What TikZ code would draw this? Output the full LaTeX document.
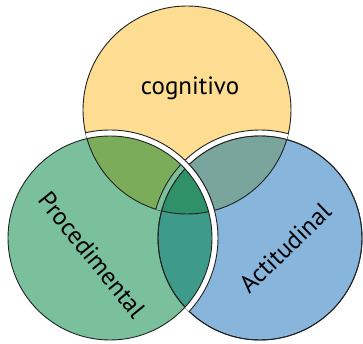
\documentclass[tikz,border=0pt]{standalone}
\usepackage{fontspec}
\setmainfont{PT Sans}
\definecolor{cyel}{HTML}{FCDD92}
\definecolor{cgreen}{HTML}{7BC09C}
\definecolor{cblue}{HTML}{87B5DC}
\definecolor{colive}{HTML}{7AAC5A}
\definecolor{cgrey}{HTML}{7AA59C}
\definecolor{cteal}{HTML}{3E9B8A}
\definecolor{cdark}{HTML}{2F9168}
\definecolor{cline}{HTML}{222222}
\begin{document}
\begin{tikzpicture}[x=1pt,y=-1pt,line width=0.9pt,
  outl/.style={draw=cline},
  cut/.style={fill=white,draw=cline},
  lbl/.style={font=\fontsize{25}{30}\selectfont,inner sep=0pt}]
\useasboundingbox (0,0) rectangle (363,344);
\coordinate (Y) at (187,110);
\coordinate (G) at (110,238);
\coordinate (B) at (260,238);
% yellow
\filldraw[fill=cyel,outl] (Y) circle (104pt);
% blue cut into yellow
\begin{scope}
  \clip (Y) circle (104pt);
  \filldraw[cut] (B) circle (108pt);
\end{scope}
% blue
\filldraw[fill=cblue,outl] (B) circle (102pt);
\begin{scope}
  \clip (B) circle (102pt);
  \filldraw[fill=cgrey,outl] (Y) circle (104pt);
\end{scope}
\draw[outl] (B) circle (102pt);
% green cuts
\begin{scope}
  \clip (Y) circle (104pt);
  \filldraw[cut] (G) circle (108pt);
\end{scope}
\begin{scope}
  \clip (B) circle (102.5pt);
  \filldraw[cut] (G) circle (108pt);
\end{scope}
% green
\fill[cgreen] (G) circle (102pt);
\begin{scope}
  \clip (G) circle (102pt);
  \filldraw[fill=colive,outl] (Y) circle (104pt);
  \begin{scope}
    \clip (Y) circle (104pt);
    \filldraw[fill=cgreen,outl] (B) circle (108pt);
  \end{scope}
  \filldraw[fill=cteal,outl] (B) circle (102pt);
  \begin{scope}
    \clip (B) circle (102pt);
    \filldraw[fill=cdark,outl] (Y) circle (104pt);
  \end{scope}
  \draw[outl] (B) circle (102pt);
\end{scope}
\draw[outl] (G) circle (102pt);
% labels
\node[lbl,anchor=base] (cog) at (190,95) {cognitivo};
\node[lbl,rotate=-51] (proc) at (92,255) {Procedimental};
\node[lbl,rotate=44] (act) at (285,248) {Actitudinal};
\end{tikzpicture}
\end{document}
